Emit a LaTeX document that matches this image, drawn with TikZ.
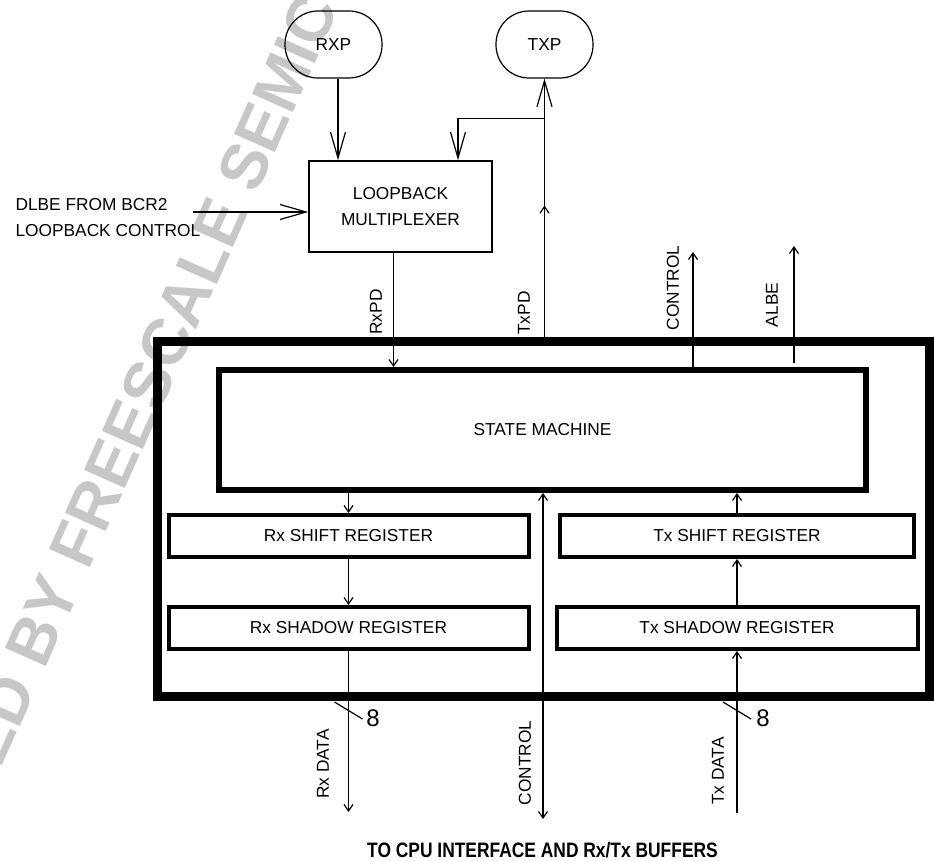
\documentclass[tikz,border=0pt]{standalone}
\usepackage{fontspec}
\usepackage{graphicx}
\setmainfont{Liberation Sans}
\usetikzlibrary{arrows.meta}

\begin{document}
\begin{tikzpicture}[x=1pt,y=-1pt,line width=1.2pt,
      >={Straight Barb[length=6.5pt,width=9pt]},
      big/.style={-{Straight Barb[length=26pt,width=15pt]}},
      txt/.style={font=\fontsize{17.3}{26.5}\selectfont,inner sep=0pt},
      term/.style={txt,draw,rounded corners=33pt,minimum width=97pt,minimum height=67pt},
      reg/.style={txt,draw,line width=4pt,minimum height=42pt},
      vl/.style={txt,rotate=90},
      bus/.style={font=\fontsize{24}{24}\selectfont,inner sep=0pt}]
    \useasboundingbox (0,0) rectangle (934,861);
    % archive stamp behind the diagram
    \node[rotate=66,anchor=base west,inner sep=0pt,text=black!22,
          font=\fontsize{65}{65}\selectfont\bfseries] (stamp) at (-101,998)
          {ARCHIVED BY FREESCALE SEMICONDUCTOR, INC.};
    \node[term] (rxp) at (333.5,44.5) {RXP};
    \node[term] (txp) at (544.5,44.5) {TXP};
    \node[txt,draw,line width=1.5pt,minimum width=183pt,minimum height=91pt,align=center] (loop) at (400.5,206.5) {LOOPBACK\\MULTIPLEXER};
    \node[txt,align=left,anchor=west] (dlbe) at (15,217.5) {DLBE FROM BCR2\\LOOPBACK CONTROL};
    \node[draw,line width=9pt,minimum width=772pt,minimum height=355pt] (chip) at (543.5,519) {};
    \node[txt,draw,line width=6pt,minimum width=647pt,minimum height=120pt] (state) at (542.5,430) {STATE MACHINE};
    \node[reg,minimum width=360pt] (rxs) at (348.5,536) {Rx SHIFT REGISTER};
    \node[reg,minimum width=360pt] (rxw) at (348.5,628) {Rx SHADOW REGISTER};
    \node[reg,minimum width=354pt] (txs) at (737,536) {Tx SHIFT REGISTER};
    \node[reg,minimum width=361pt] (txw) at (737,628) {Tx SHADOW REGISTER};
    % free ends
    \coordinate (dlbein) at (193,212);
    \coordinate (ctlup) at (693,252);
    \coordinate (albetop) at (794,246);
    \coordinate (albebot) at (794,363);
    \coordinate (rxd) at (348.5,812);
    \coordinate (ctld) at (543,819);
    \coordinate (txd) at (737,813);
    \coordinate (rxbus) at (348.5,710.5);
    \coordinate (txbus) at (737,710.5);
    \coordinate (rxpout) at ([xshift=4.5pt]rxp.south);
    \coordinate (rxpd) at ([xshift=-7pt]loop.south);
    \path (txp.south) ++(0,40) coordinate (fb) ++(0,87) coordinate (txmid);
    % loopback side
    \draw[big] (rxpout) -- (rxpout |- loop.north);
    \draw[big] (dlbein) -- (dlbein -| loop.west);
    \draw[->] (txp.south |- chip.north) -- (txmid);
    \draw[big] (txmid) -- (txp.south);
    \draw[big] (fb) -| ([xshift=57.5pt]loop.north);
    \draw[->] (rxpd) -- (rxpd |- state.north);
    \draw[->] (state.north -| ctlup) -- (ctlup);
    \draw[->] (albebot) -- (albetop);
    % registers
    \draw[->] (state.south -| rxs.north) -- (rxs.north);
    \draw[->] (rxs.south) -- (rxw.north);
    \draw[->] (txs.north) -- (txs.north |- state.south);
    \draw[->] (txw.north) -- (txs.south);
    \draw[->] (rxw.south) -- (rxd);
    \draw[<->] (ctld) -- (ctld |- state.south);
    \draw[->] (txd) -- (txw.south);
    \draw (rxbus) ++(-14,-8.5) -- ++(28,17);
    \draw (txbus) ++(-14,-8.5) -- ++(28,17);
    % labels
    \node[vl] (rxpdl) at (376,312) {RxPD};
    \node[vl] (txpdl) at (524,313) {TxPD};
    \node[vl] (ctlupl) at (673,288) {CONTROL};
    \node[vl] (albel) at (772,305) {ALBE};
    \node[vl] (rxdl) at (323,764) {Rx DATA};
    \node[vl] (ctldl) at (525,763) {CONTROL};
    \node[vl] (txdl) at (718,771) {Tx DATA};
    \node[bus] (rxw8) at (373,718) {8};
    \node[bus] (txw8) at (763,718) {8};
    \node[inner sep=0pt,font=\fontsize{17.4}{20}\selectfont\bfseries] (cpu) at (542.5,850)
          {\scalebox{1}[1.2]{TO CPU INTERFACE AND Rx/Tx BUFFERS}};
  \end{tikzpicture}
\end{document}
